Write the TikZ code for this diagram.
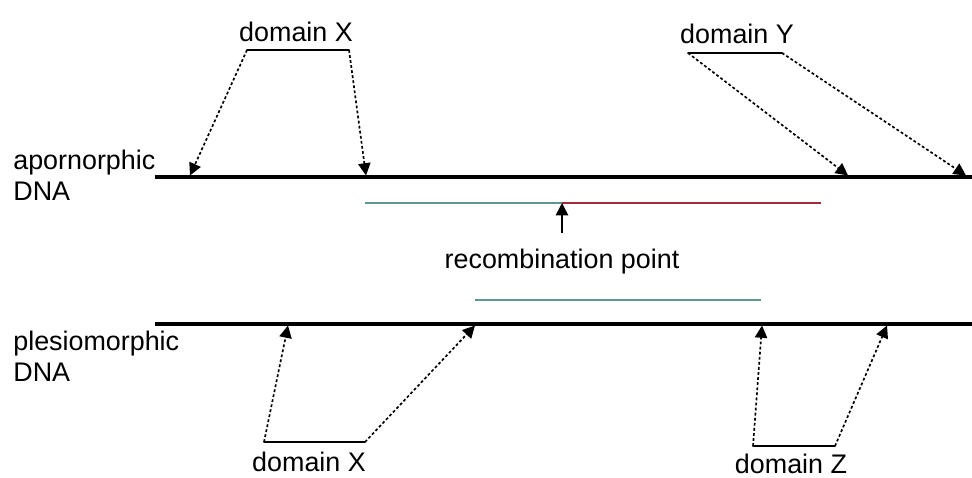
\documentclass[tikz,border=0pt]{standalone}
\usepackage{fontspec}
\setmainfont{Liberation Sans}
\usetikzlibrary{arrows.meta}

\definecolor{rectealc}{RGB}{92,152,144}
\definecolor{recredc}{RGB}{160,44,58}

\tikzset{
	dnaline/.style={line width=1.8pt},
	fragline/.style={line width=1.2pt},
	bracketline/.style={line width=0.9pt, line cap=round},
	pointer/.style={line width=0.95pt, dash pattern=on 1.6pt off 1.3pt, -{Triangle[length=7pt,width=7pt]}},
	lbl/.style={font=\fontsize{15.3}{17.6}\selectfont, inner sep=0pt}
}

\begin{document}
\begin{tikzpicture}[x=0.02cm, y=-0.02cm]
	\useasboundingbox (0,0) rectangle (972,477);

	% DNA strands
	\node[lbl, anchor=west, align=left] (apolbl) at (13,175) {apornorphic\\DNA};
	\node[lbl, anchor=west, align=left] (plelbl) at (13,356) {plesiomorphic\\DNA};
	\coordinate (apoL) at (155,177);
	\coordinate (apoR) at (972,177);
	\coordinate (pleL) at (155,324);
	\coordinate (pleR) at (972,324);
	\draw[dnaline] (apoL) -- (apoR);
	\draw[dnaline] (pleL) -- (pleR);

	% recombinant fragments
	\coordinate (frgA) at (365,203);
	\coordinate (recpt) at (562,203);
	\coordinate (frgB) at (821,203);
	\coordinate (frgC) at (475,300);
	\coordinate (frgD) at (761,300);
	\draw[fragline, rectealc] (frgA) -- (recpt);
	\draw[fragline, recredc] (recpt) -- (frgB);
	\draw[fragline, rectealc] (frgC) -- (frgD);
	\node[lbl, anchor=base] (reclbl) at (562,268) {recombination point};
	\coordinate (recfoot) at (562,233);
	\draw[line width=0.9pt, -{Triangle[length=7pt,width=7pt]}] (recfoot) -- (recpt);

	% domain X (top)
	\node[lbl, anchor=base] (domXa) at (296,41) {domain X};
	\coordinate (xa1) at (247,50);
	\coordinate (xa2) at (349,50);
	\coordinate (xa1t) at (190,175.5);
	\coordinate (xa2t) at (366,175.5);
	\draw[bracketline] (xa1) -- (xa2);
	\draw[pointer] (xa1) -- (xa1t);
	\draw[pointer] (xa2) -- (xa2t);

	% domain Y
	\node[lbl, anchor=base] (domY) at (737,43) {domain Y};
	\coordinate (y1) at (688,53);
	\coordinate (y2) at (782,53);
	\coordinate (y1t) at (848,175.5);
	\coordinate (y2t) at (966,175.5);
	\draw[bracketline] (y1) -- (y2);
	\draw[pointer] (y1) -- (y1t);
	\draw[pointer] (y2) -- (y2t);

	% domain X (bottom)
	\node[lbl, anchor=base] (domXb) at (309,471) {domain X};
	\coordinate (xb1) at (264,442);
	\coordinate (xb2) at (365,442);
	\coordinate (xb1t) at (288,325.5);
	\coordinate (xb2t) at (475,325.5);
	\draw[bracketline] (xb1) -- (xb2);
	\draw[pointer] (xb1) -- (xb1t);
	\draw[pointer] (xb2) -- (xb2t);

	% domain Z
	\node[lbl, anchor=base] (domZ) at (791,473) {domain Z};
	\coordinate (z1) at (753,446);
	\coordinate (z2) at (835,446);
	\coordinate (z1t) at (762,325.5);
	\coordinate (z2t) at (887,325.5);
	\draw[bracketline] (z1) -- (z2);
	\draw[pointer] (z1) -- (z1t);
	\draw[pointer] (z2) -- (z2t);
\end{tikzpicture}
\end{document}
